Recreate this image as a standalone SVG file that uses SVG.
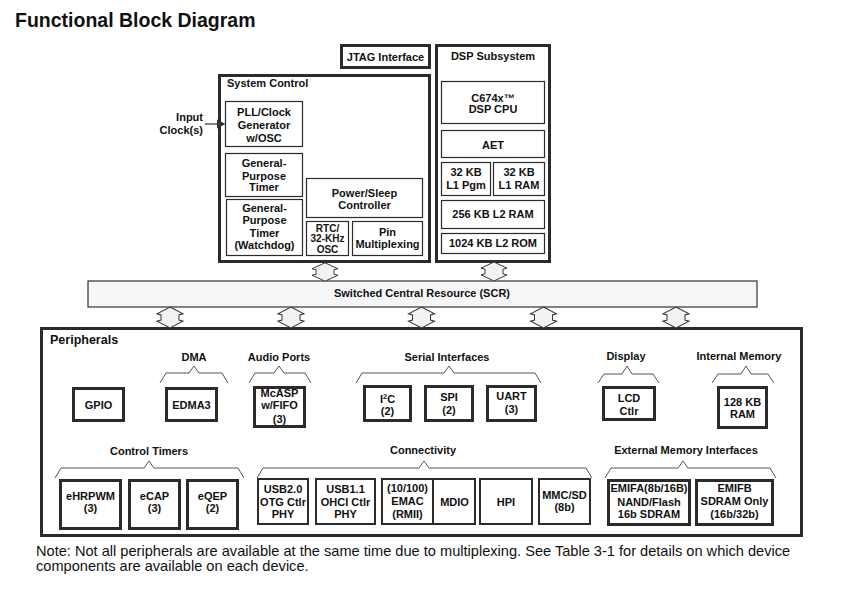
<svg xmlns="http://www.w3.org/2000/svg" width="845" height="589" viewBox="0 0 845 589">
<style>
.t{font-family:"Liberation Sans",Arial,sans-serif;font-weight:bold;font-size:11px;fill:#111;text-anchor:middle}
.l{text-anchor:start}
.e{text-anchor:end}
.s{font-size:10px}
.thick{fill:#fff;stroke:#2b2b2b;stroke-width:3}
.mid{fill:#fff;stroke:#2b2b2b;stroke-width:2}
.thin{fill:#fff;stroke:#2b2b2b;stroke-width:1.2}
.brace{fill:none;stroke:#555;stroke-width:1}
.dbl{fill:#f2f2f4;stroke:#333;stroke-width:1}
.note{font-family:"Liberation Sans",Arial,sans-serif;font-size:14.6px;fill:#111}
</style>
<defs>
<path id="dbl" class="dbl" d="M0,-10 L13,-3.5 L9,-2.5 L9,2.5 L13,3.5 L0,10 L-13,3.5 L-9,2.5 L-9,-2.5 L-13,-3.5 Z"/>
</defs>
<rect width="845" height="589" fill="#fff"/>
<text x="15" y="27" class="t l" style="font-size:19.5px">Functional Block Diagram</text>

<g id="jtag"><rect class="thick" x="341.5" y="45.5" width="88" height="22"/><text class="t" x="385.5" y="61">JTAG Interface</text></g>

<g id="system-control">
<rect class="thick" x="219.5" y="75.5" width="210" height="186"/>
<text class="t l" x="227" y="87">System Control</text>
<g id="pll"><rect class="thin" x="225.5" y="101.5" width="77" height="45"/><text class="t" x="264" y="116">PLL/Clock</text><text class="t" x="264" y="129">Generator</text><text class="t" x="264" y="141.5">w/OSC</text></g>
<g id="gptimer"><rect class="thin" x="225.5" y="153.5" width="77" height="43"/><text class="t" x="264" y="166.5">General-</text><text class="t" x="264" y="179.5">Purpose</text><text class="t" x="264" y="191">Timer</text></g>
<g id="watchdog"><rect class="thin" x="226.5" y="199.5" width="76" height="56"/><text class="t" x="264.5" y="212">General-</text><text class="t" x="264.5" y="224">Purpose</text><text class="t" x="264.5" y="237">Timer</text><text class="t" x="264.5" y="249">(Watchdog)</text></g>
<g id="power"><rect class="thin" x="306.5" y="178.5" width="116" height="39"/><text class="t" x="364.5" y="197">Power/Sleep</text><text class="t" x="364.5" y="209">Controller</text></g>
<g id="rtc"><rect class="thin" x="306.5" y="221.5" width="42" height="34"/><text class="t s" x="327.5" y="231.5">RTC/</text><text class="t s" x="327.5" y="242">32-KHz</text><text class="t s" x="327.5" y="252.5">OSC</text></g>
<g id="pinmux"><rect class="thin" x="352.5" y="221.5" width="70" height="34"/><text class="t" x="387.5" y="236">Pin</text><text class="t" x="387.5" y="248">Multiplexing</text></g>
</g>

<g id="dsp-subsystem">
<rect class="thick" x="436.5" y="45.5" width="113" height="216"/>
<text class="t" x="493" y="60">DSP Subsystem</text>
<g id="cpu"><rect class="thin" x="441.5" y="81.5" width="103" height="42"/><text class="t" x="493" y="102">C674x™</text><text class="t" x="493" y="113">DSP CPU</text></g>
<g id="aet"><rect class="thin" x="441.5" y="130.5" width="103" height="27"/><text class="t" x="493" y="149">AET</text></g>
<g id="l1pgm"><rect class="thin" x="441.5" y="162.5" width="49" height="33"/><text class="t" x="466" y="176">32 KB</text><text class="t" x="466" y="189">L1 Pgm</text></g>
<g id="l1ram"><rect class="thin" x="493.5" y="162.5" width="51" height="33"/><text class="t" x="519" y="176">32 KB</text><text class="t" x="519" y="189">L1 RAM</text></g>
<g id="l2ram"><rect class="thin" x="441.5" y="200.5" width="103" height="28"/><text class="t" x="493" y="218">256 KB L2 RAM</text></g>
<g id="l2rom"><rect class="thin" x="441.5" y="233.5" width="103" height="20"/><text class="t" x="493" y="247">1024 KB L2 ROM</text></g>
</g>

<g id="scr"><rect x="88" y="281" width="669" height="26" fill="#f6f6f8" stroke="#333" stroke-width="1.2"/><text class="t" x="422" y="297">Switched Central Resource (SCR)</text></g>

<g id="peripherals">
<rect class="thick" x="41.5" y="328.5" width="760" height="207"/>
<text class="t l" x="50" y="344" style="font-size:12.5px">Peripherals</text>

<g id="labels">
<text class="t" x="194" y="361">DMA</text>
<text class="t" x="279" y="361">Audio Ports</text>
<text class="t" x="447" y="361">Serial Interfaces</text>
<text class="t" x="626" y="360">Display</text>
<text class="t" x="739" y="360">Internal Memory</text>
<text class="t" x="149" y="455">Control Timers</text>
<text class="t" x="423" y="454">Connectivity</text>
<text class="t" x="686" y="454">External Memory Interfaces</text>
</g>
<g id="braces">
<path class="brace" d="M160,383 L166,373 L189,373 L194,366 L199,373 L222,373 L228,383"/>
<path class="brace" d="M249,383 L255,373 L274,373 L279,366 L284,373 L305,373 L311,383"/>
<path class="brace" d="M356,383 L362,373 L444,373 L449,366 L454,373 L535,373 L541,383"/>
<path class="brace" d="M598,383 L604,374 L622,374 L627,366 L632,374 L653,374 L659,383"/>
<path class="brace" d="M712,383 L718,374 L741,374 L746,366 L751,374 L768,374 L774,383"/>
<path class="brace" d="M55,478 L61,468 L144,468 L149,461 L154,468 L238,468 L244,478"/>
<path class="brace" d="M257,478 L263,468 L419,468 L424,461 L429,468 L586,468 L592,478"/>
<path class="brace" d="M605,478 L611,468 L678,468 L683,461 L688,468 L770,468 L776,478"/>
</g>

<g id="gpio"><rect class="thick" x="73.5" y="388.5" width="50" height="32"/><text class="t" x="98.5" y="409">GPIO</text></g>
<g id="edma3"><rect class="thick" x="166.5" y="388.5" width="50" height="32"/><text class="t" x="191.5" y="409">EDMA3</text></g>
<g id="mcasp"><rect class="thick" x="254.5" y="387.5" width="50" height="39"/><text class="t" x="279.5" y="397">McASP</text><text class="t" x="279.5" y="409">w/FIFO</text><text class="t" x="279.5" y="423">(3)</text></g>
<g id="i2c"><rect class="thick" x="364.5" y="386.5" width="46" height="34"/><text class="t" x="387.5" y="403">I<tspan font-size="7.5" dy="-4">2</tspan><tspan dy="4">C</tspan></text><text class="t" x="387.5" y="415">(2)</text></g>
<g id="spi"><rect class="thick" x="425.5" y="386.5" width="47" height="34"/><text class="t" x="449" y="401">SPI</text><text class="t" x="449" y="414">(2)</text></g>
<g id="uart"><rect class="thick" x="487.5" y="386.5" width="48" height="34"/><text class="t" x="511.5" y="400">UART</text><text class="t" x="511.5" y="413">(3)</text></g>
<g id="lcd"><rect class="thick" x="603.5" y="387.5" width="51" height="32"/><text class="t" x="629" y="402">LCD</text><text class="t" x="629" y="415">Ctlr</text></g>
<g id="ram128"><rect class="thick" x="718.5" y="387.5" width="48" height="40"/><text class="t" x="742.5" y="406">128 KB</text><text class="t" x="742.5" y="418">RAM</text></g>

<g id="ehrpwm"><rect class="thick" x="60.5" y="480.5" width="60" height="48"/><text class="t" x="90.5" y="500">eHRPWM</text><text class="t" x="90.5" y="512">(3)</text></g>
<g id="ecap"><rect class="thick" x="129.5" y="480.5" width="50" height="48"/><text class="t" x="154.5" y="500">eCAP</text><text class="t" x="154.5" y="512">(3)</text></g>
<g id="eqep"><rect class="thick" x="187.5" y="480.5" width="50" height="48"/><text class="t" x="212.5" y="500">eQEP</text><text class="t" x="212.5" y="512">(2)</text></g>
<g id="usb20"><rect class="mid" x="258" y="479" width="50" height="45"/><text class="t" x="283" y="493">USB2.0</text><text class="t" x="283" y="506">OTG Ctlr</text><text class="t" x="283" y="518">PHY</text></g>
<g id="usb11"><rect class="mid" x="316" y="479" width="59" height="45"/><text class="t" x="345.5" y="493">USB1.1</text><text class="t" x="345.5" y="506">OHCI Ctlr</text><text class="t" x="345.5" y="518">PHY</text></g>
<g id="emac"><rect class="mid" x="382" y="479" width="51" height="45"/><text class="t" x="407.5" y="492">(10/100)</text><text class="t" x="407.5" y="505">EMAC</text><text class="t" x="407.5" y="518">(RMII)</text></g>
<g id="mdio"><rect class="mid" x="433" y="479" width="42" height="45"/><text class="t" x="454.5" y="506">MDIO</text></g>
<g id="hpi"><rect class="mid" x="480" y="479" width="52" height="45"/><text class="t" x="506" y="506">HPI</text></g>
<g id="mmcsd"><rect class="mid" x="539" y="479" width="51" height="45"/><text class="t" x="564.5" y="499">MMC/SD</text><text class="t" x="564.5" y="511">(8b)</text></g>
<g id="emifa"><rect class="thick" x="608.5" y="480.5" width="81" height="44"/><text class="t" x="649" y="492">EMIFA(8b/16B)</text><text class="t" x="649" y="506">NAND/Flash</text><text class="t" x="649" y="518">16b SDRAM</text></g>
<g id="emifb"><rect class="thick" x="696.5" y="480.5" width="76" height="44"/><text class="t" x="734.5" y="492">EMIFB</text><text class="t" x="734.5" y="505">SDRAM Only</text><text class="t" x="734.5" y="518">(16b/32b)</text></g>
</g>

<g id="input-clock"><text class="t e" x="203" y="121">Input</text><text class="t e" x="203" y="134">Clock(s)</text></g>

<g id="connectors">
<line x1="205" y1="124" x2="218" y2="124" stroke="#333" stroke-width="1.2"/>
<polygon points="217,119.5 225.5,124 217,128.5" fill="#333"/>
<use href="#dbl" transform="translate(325,272) scale(1,0.92)"/>
<use href="#dbl" transform="translate(494,271.5) scale(1,0.95)"/>
<use href="#dbl" transform="translate(170,317.5) scale(1,1.05)"/>
<use href="#dbl" transform="translate(291,317.5) scale(1,1.05)"/>
<use href="#dbl" transform="translate(421.5,317.5) scale(1,1.05)"/>
<use href="#dbl" transform="translate(543.5,317.5) scale(1,1.05)"/>
<use href="#dbl" transform="translate(676,317.5) scale(1,1.05)"/>
</g>

<text class="note" x="36" y="556">Note: Not all peripherals are available at the same time due to multiplexing. See Table 3-1 for details on which device</text>
<text class="note" x="36" y="571">components are available on each device.</text>
</svg>
